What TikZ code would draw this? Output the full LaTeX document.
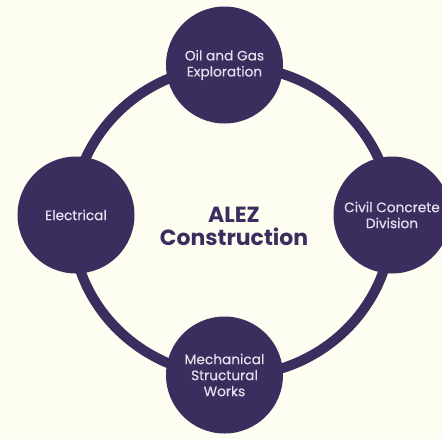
\documentclass[tikz,border=0pt]{standalone}
\usepackage{fontspec}
\setmainfont{Poppins}
\usetikzlibrary{positioning}
\definecolor{alezpurple}{HTML}{3B2D5E}
\definecolor{alezcream}{HTML}{FEFDF1}
\definecolor{alezlilac}{HTML}{E4E0EC}
\tikzstyle{division} = [circle, fill=alezpurple, minimum size=23.4mm, inner sep=0pt, align=center, text=alezlilac, font=\fontsize{7.8}{9.1}\selectfont\addfontfeature{FakeBold=0.4}]
\tikzstyle{ring} = [draw=alezpurple, line width=5.7pt]
\tikzstyle{title} = [align=center, text=alezpurple, font=\bfseries\fontsize{12.5}{13.1}\selectfont]

\begin{document}
\begin{tikzpicture}[x=0.2mm, y=-0.2mm]
	\useasboundingbox[fill=alezcream] (0,0) rectangle (442,439);

		\node (hub) [title] at (234,226) {ALEZ\\Construction};

		 % Draw ring
		 \draw [ring] (hub.center) ++(-2,-5) ellipse [x radius=160, y radius=155];

		\node (oil) [division] at (224.5,65) {Oil and Gas\\Exploration};
		\node (civil) [division] at (392,215) {Civil Concrete\\Division};
		\node (mech) [division] at (224.5,375) {Mechanical\\Structural\\Works};
		\node (elec) [division] at (76,215) {Electrical};

\end{tikzpicture}
\end{document}
